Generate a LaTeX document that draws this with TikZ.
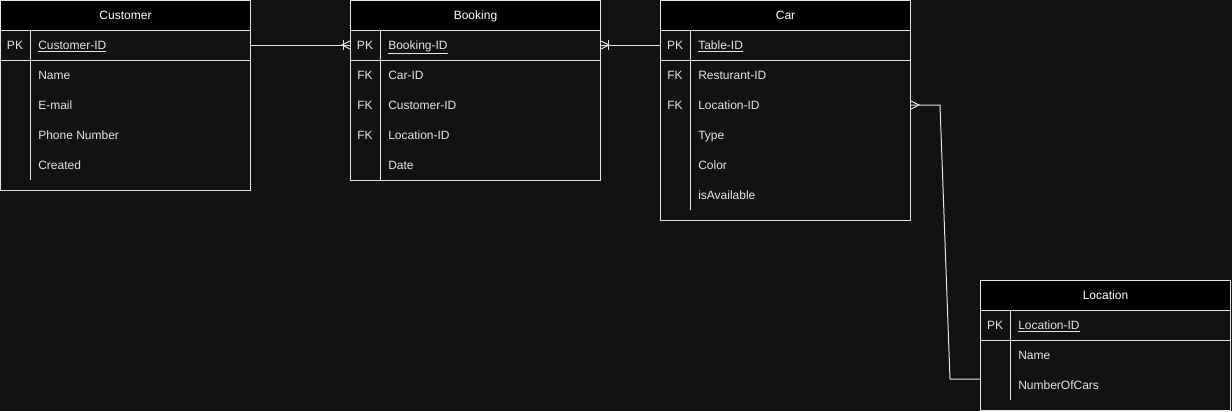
\documentclass[tikz,border=0pt]{standalone}
\usepackage{fontspec}
\setmainfont{Liberation Sans}
\usepackage{xcolor}
\definecolor{bg}{HTML}{121212}
\definecolor{ink}{HTML}{E4E4E4}
\usetikzlibrary{positioning}
\tikzset{%
    line/.style={draw=ink, line width=0.75pt},
    tbl/.style={draw=ink, line width=0.75pt, anchor=north west, inner sep=0pt,
        minimum width=187.5pt},
    hdr/.style={tbl, fill=black, minimum height=22.5pt, text=white,
        text height=7.5pt, text depth=1.5pt},
    key/.style={text=ink, inner sep=0pt, text height=7.5pt, text depth=1.5pt},
    field/.style={key, anchor=west},
    crow/.pic={\draw[line] (0,-4) -- (-8,0) -- (0,4);},
    crowbar/.pic={\draw[line] (0,-4) -- (-8,0) -- (0,4);
        \draw[line] (-7,-5) -- (-7,5);}
}

\begin{document}
\begin{tikzpicture}[x=0.75pt,y=-0.75pt,font=\fontsize{9}{11}\selectfont]
    \fill[bg] (0,0) rectangle (1232,411);
    \useasboundingbox (0,0) rectangle (1232,411);

    % Customer
    \begin{scope}[shift={(0,0)}]
    \node[tbl, minimum height=142.5pt] (customer) at (0,0) {};
    \node[hdr] (customer-head) at (0,0) {Customer};
    \draw[line] (0,60) -- (250,60);
    \draw[line] (30,30) -- (30,180);
    \node[key] (customer-pk) at (15,45) {PK};
    \node[field] (customer-id) at (38,45) {\underline{Customer-ID}};
    \foreach \y/\t in {75/Name,105/E-mail,135/Phone Number,165/Created}
        \node[field] (customer-\y) at (38,\y) {\t};
    \end{scope}

    % Booking
    \begin{scope}[shift={(350,0)}]
    \node[tbl, minimum height=135pt] (booking) at (0,0) {};
    \node[hdr] (booking-head) at (0,0) {Booking};
    \draw[line] (0,60) -- (250,60);
    \draw[line] (30,30) -- (30,180);
    \node[key] (booking-pk) at (15,45) {PK};
    \node[field] (booking-id) at (38,45) {\underline{Booking-ID}};
    \foreach \y/\k/\t in {75/FK/Car-ID,105/FK/Customer-ID,135/FK/Location-ID,165//Date}{
        \node[key] (booking-k\y) at (15,\y) {\k};
        \node[field] (booking-\y) at (38,\y) {\t};
    }
    \end{scope}

    % Car
    \begin{scope}[shift={(660,0)}]
    \node[tbl, minimum height=165pt] (car) at (0,0) {};
    \node[hdr] (car-head) at (0,0) {Car};
    \draw[line] (0,60) -- (250,60);
    \draw[line] (30,30) -- (30,210);
    \node[key] (car-pk) at (15,45) {PK};
    \node[field] (car-id) at (38,45) {\underline{Table-ID}};
    \foreach \y/\k/\t in {75/FK/Resturant-ID,105/FK/Location-ID,135//Type,165//Color,195//isAvailable}{
        \node[key] (car-k\y) at (15,\y) {\k};
        \node[field] (car-\y) at (38,\y) {\t};
    }
    \end{scope}

    % Location
    \begin{scope}[shift={(980,280)}]
    \node[tbl, minimum height=97.5pt] (location) at (0,0) {};
    \node[hdr] (location-head) at (0,0) {Location};
    \draw[line] (0,60) -- (250,60);
    \draw[line] (30,30) -- (30,120);
    \node[key] (location-pk) at (15,45) {PK};
    \node[field] (location-id) at (38,45) {\underline{Location-ID}};
    \foreach \y/\t in {75/Name,105/NumberOfCars}
        \node[field] (location-\y) at (38,\y) {\t};
    \end{scope}

    % relations
    \draw[line] (customer.east |- customer-id) -- (booking.west |- booking-id);
    \pic at (booking.west |- booking-id) {crowbar};
    \draw[line] (booking.east |- booking-id) -- (car.west |- car-id);
    \pic[rotate=180] at (booking.east |- booking-id) {crowbar};
    \coordinate (bend1) at (940,105);
    \coordinate (bend2) at (950,379);
    \draw[line] (car.east |- car-105) -- (bend1) -- (bend2) -- (location.west |- bend2);
    \pic[rotate=180] at (car.east |- car-105) {crow};
\end{tikzpicture}
\end{document}
